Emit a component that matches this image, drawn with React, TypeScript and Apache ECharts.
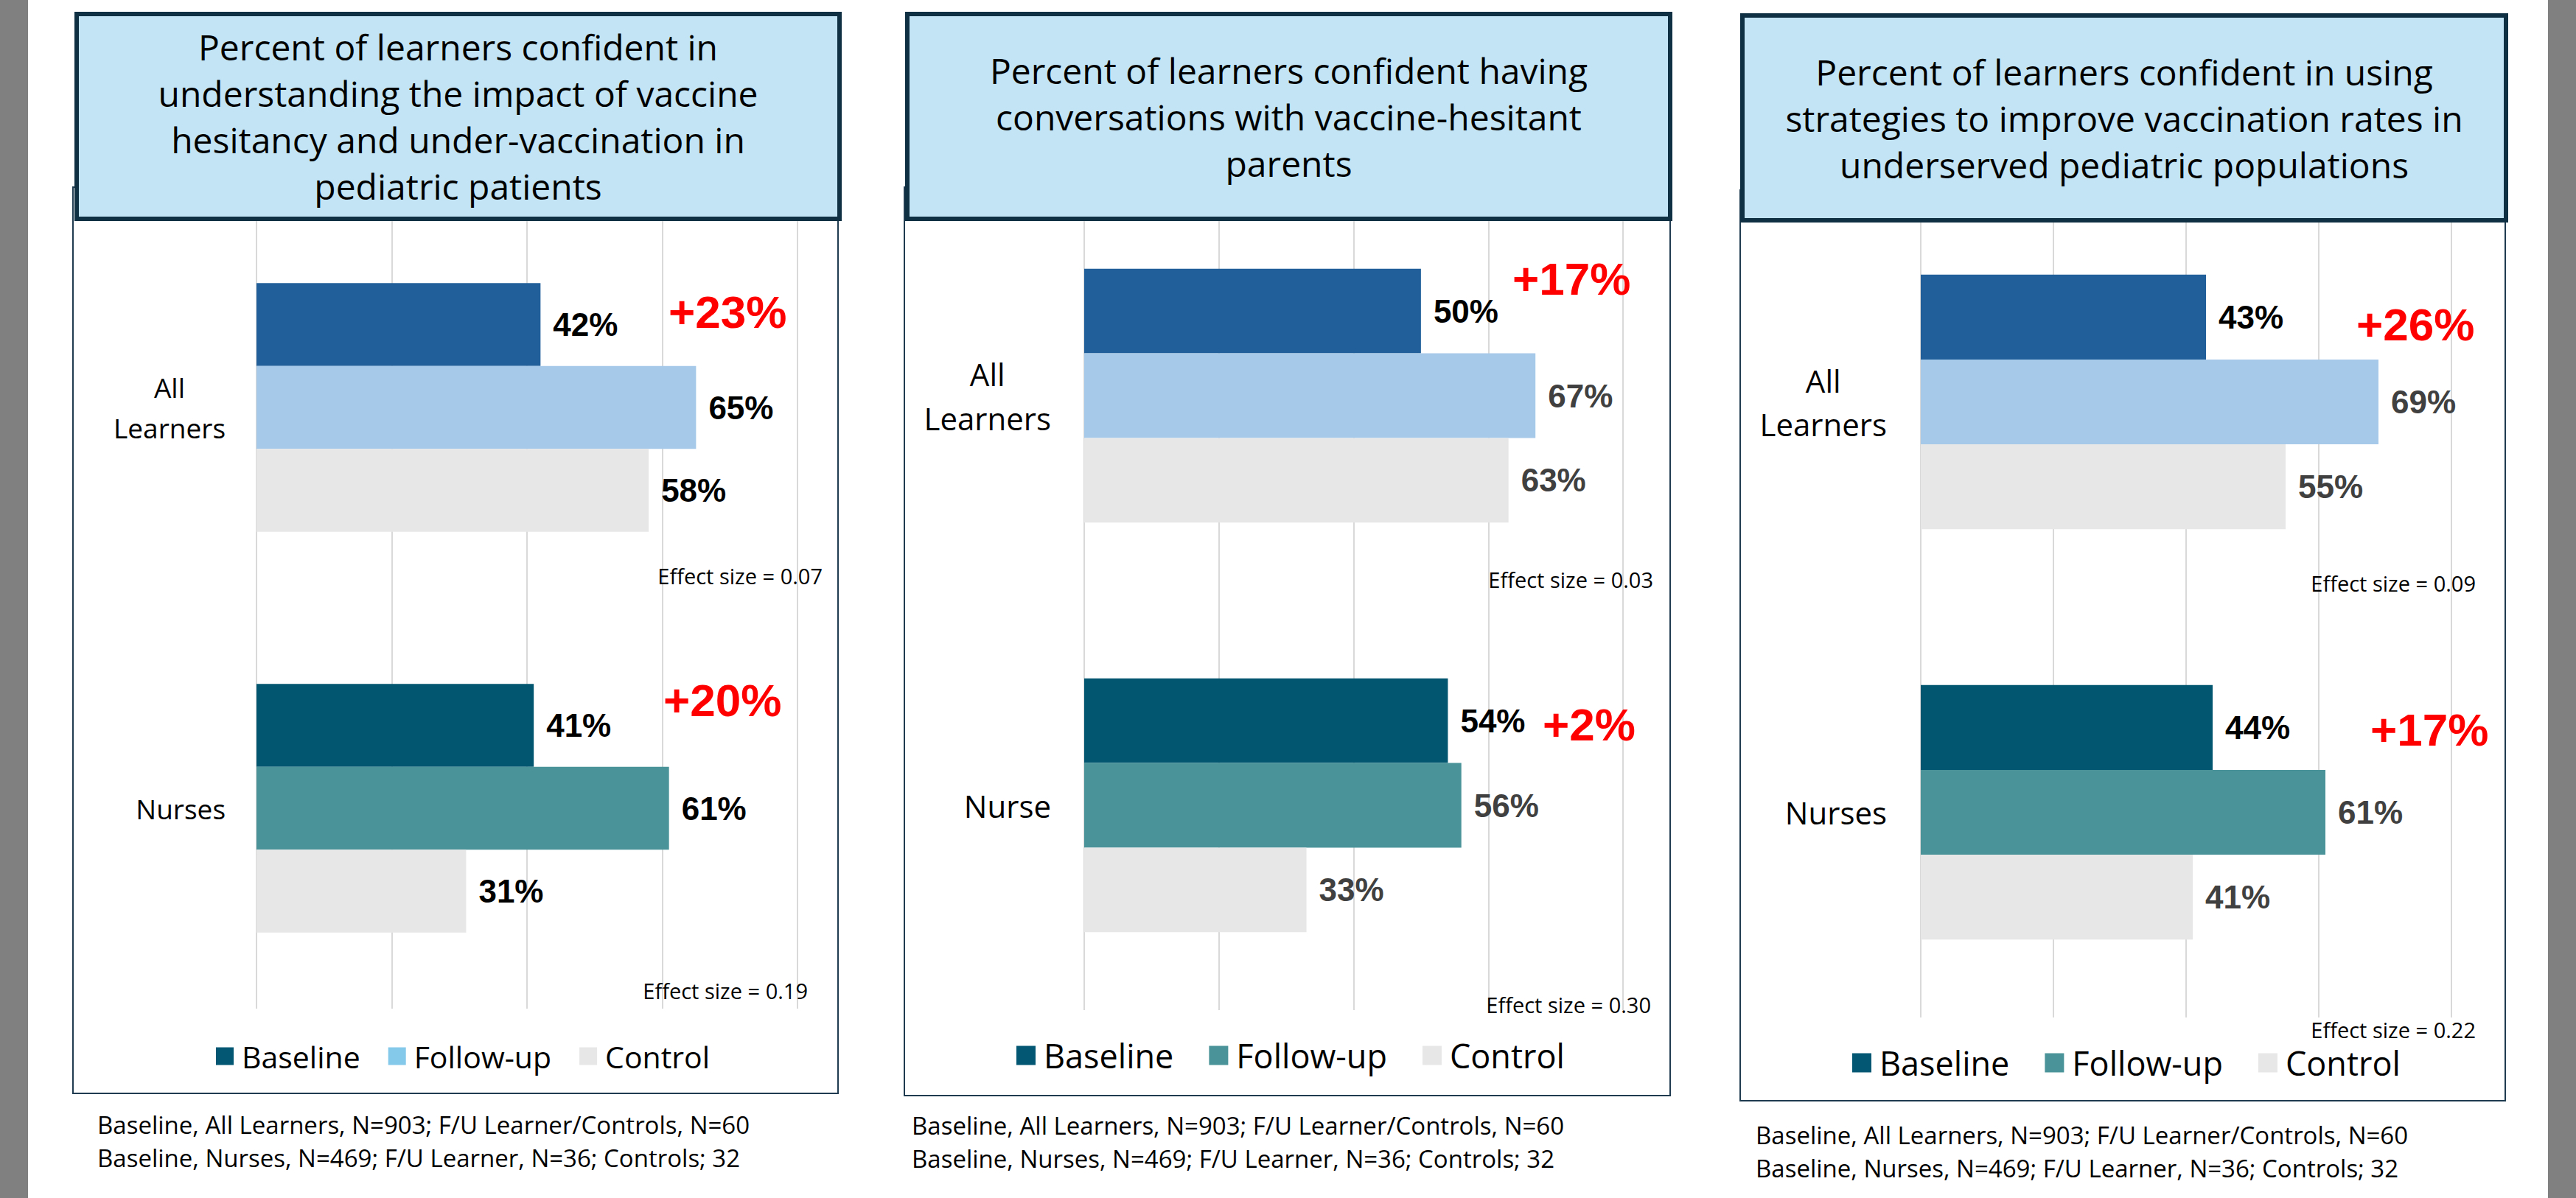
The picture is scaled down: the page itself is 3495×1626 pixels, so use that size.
import React, { useEffect, useRef } from "react";
import * as echarts from "echarts";

// ---------------- DATA ----------------
const seriesNames = ["Baseline", "Follow-up", "Control"];

const titles = [
  "Percent of learners confident in\nunderstanding the impact of vaccine\nhesitancy and under-vaccination in\npediatric patients",
  "Percent of learners confident having\nconversations with vaccine-hesitant\nparents",
  "Percent of learners confident in using\nstrategies to improve vaccination rates in\nunderserved pediatric populations",
];

const categories1 = ["All Learners", "Nurses"];
const categories2 = ["All Learners", "Nurse"];
const categories3 = ["All Learners", "Nurses"];

const baseline1 = [42, 41];
const followUp1 = [65, 61];
const control1 = [58, 31];

const baseline2 = [50, 54];
const followUp2 = [67, 56];
const control2 = [63, 33];

const baseline3 = [43, 44];
const followUp3 = [69, 61];
const control3 = [55, 41];

const deltas1 = ["+23%", "+20%"];
const deltas2 = ["+17%", "+2%"];
const deltas3 = ["+26%", "+17%"];

const effectSizes1 = ["0.07", "0.19"];
const effectSizes2 = ["0.03", "0.30"];
const effectSizes3 = ["0.09", "0.22"];

const footnoteLines = [
  "Baseline, All Learners, N=903; F/U Learner/Controls, N=60",
  "Baseline, Nurses, N=469; F/U Learner, N=36; Controls; 32",
];

const axisMin = 0;
const axisMax = 80;
const axisInterval = 20;

// ---------------- STYLE / LAYOUT ----------------
const W = 3495;
const H = 1626;
const TEXT_FONT = "'Open Sans', 'Noto Sans', sans-serif";
const LABEL_FONT = "'Liberation Sans', Arial, sans-serif";

// bar colours by category row: [baseline, follow-up, control]
const rowColors = [
  ["#215f9a", "#a6c9ea", "#e7e7e7"],
  ["#02566f", "#4a9499", "#e7e7e7"],
];

const panels = [
  {
    categories: categories1,
    values: [baseline1, followUp1, control1],
    deltas: deltas1,
    effects: effectSizes1,
    title: titles[0],
    grid: { left: 348, top: 281, width: 734, height: 1088 },
    catFont: 37,
    catLine: 55,
    catMargin: 42,
    labelColors: ["#000000", "#000000", "#000000"],
    legendColors: ["#035773", "#84c9ea", "#e7e7e7"],
    legend: { left: 288, top: 1408, size: 24, gap: 38, font: 41 },
    titleBox: { x: 101, y: 16, w: 1041, h: 284 },
    frame: { x: 99, y: 254, w: 1038, h: 1230 },
    deltaPos: [
      [907, 423],
      [900, 950],
    ],
    effectPos: [
      [1116, 781],
      [1096, 1344],
    ],
    footPos: [132, 1526],
  },
  {
    categories: categories2,
    values: [baseline2, followUp2, control2],
    deltas: deltas2,
    effects: effectSizes2,
    title: titles[1],
    grid: { left: 1471, top: 259, width: 731, height: 1112 },
    catFont: 42,
    catLine: 60,
    catMargin: 45,
    labelColors: ["#000000", "#404040", "#404040"],
    legendColors: ["#035773", "#4a9499", "#e7e7e7"],
    legend: { left: 1374, top: 1405, size: 26, gap: 48, font: 45 },
    titleBox: { x: 1228, y: 16, w: 1041, h: 284 },
    frame: { x: 1227, y: 254, w: 1039, h: 1233 },
    deltaPos: [
      [2052, 378],
      [2093, 983],
    ],
    effectPos: [
      [2243, 786],
      [2240, 1363],
    ],
    footPos: [1237, 1527],
  },
  {
    categories: categories3,
    values: [baseline3, followUp3, control3],
    deltas: deltas3,
    effects: effectSizes3,
    title: titles[2],
    grid: { left: 2606, top: 267, width: 720, height: 1114 },
    catFont: 42,
    catLine: 59,
    catMargin: 46,
    labelColors: ["#000000", "#404040", "#404040"],
    legendColors: ["#035773", "#4a9499", "#e7e7e7"],
    legend: { left: 2508, top: 1415, size: 26, gap: 48, font: 45 },
    titleBox: { x: 2361, y: 18, w: 1042, h: 284 },
    frame: { x: 2361, y: 258, w: 1038, h: 1236 },
    deltaPos: [
      [3197, 440],
      [3216, 990],
    ],
    effectPos: [
      [3359, 791],
      [3359, 1397],
    ],
    footPos: [2382, 1540],
  },
];

function buildOption() {
  const grid: any[] = [];
  const xAxis: any[] = [];
  const yAxis: any[] = [];
  const series: any[] = [];
  const legend: any[] = [];
  const elements: any[] = [];

  // grey side strips
  elements.push({
    type: "rect",
    z: 0,
    shape: { x: 0, y: 0, width: 38, height: H },
    style: { fill: "#808080" },
  });
  elements.push({
    type: "rect",
    z: 0,
    shape: { x: 3457, y: 0, width: W - 3457, height: H },
    style: { fill: "#808080" },
  });

  panels.forEach((p, i) => {
    grid.push({ ...p.grid, containLabel: false });
    xAxis.push({
      gridIndex: i,
      type: "value",
      min: axisMin,
      max: axisMax,
      interval: axisInterval,
      axisLabel: { show: false },
      axisLine: { show: false },
      axisTick: { show: false },
      splitLine: { show: true, lineStyle: { color: "#d9d9d9", width: 2 } },
    });
    yAxis.push({
      gridIndex: i,
      type: "category",
      data: p.categories,
      inverse: true,
      axisLine: { show: false },
      axisTick: { show: false },
      axisLabel: {
        margin: p.catMargin,
        formatter: (v: string) =>
          v
            .split(" ")
            .map((w) => `{c|${w}}`)
            .join("\n"),
        rich: {
          c: {
            fontFamily: TEXT_FONT,
            fontSize: p.catFont,
            lineHeight: p.catLine,
            color: "#000000",
            align: "center",
          },
        },
      },
    });

    seriesNames.forEach((name, s) => {
      series.push({
        type: "bar",
        name,
        xAxisIndex: i,
        yAxisIndex: i,
        barGap: "0%",
        barCategoryGap: "38%",
        data: p.values[s].map((v, k) => ({
          value: v,
          itemStyle: { color: rowColors[k][s] },
        })),
        label: {
          show: true,
          position: "right",
          distance: 17,
          formatter: "{c}%",
          fontFamily: LABEL_FONT,
          fontWeight: "bold",
          fontSize: 44,
          color: p.labelColors[s],
        },
      });
    });

    legend.push({
      left: p.legend.left,
      top: p.legend.top,
      orient: "horizontal",
      icon: "rect",
      itemWidth: p.legend.size,
      itemHeight: p.legend.size,
      itemGap: p.legend.gap,
      selectedMode: false,
      textStyle: {
        fontFamily: TEXT_FONT,
        fontSize: p.legend.font,
        color: "#000000",
        padding: [0, 0, 0, 6],
      },
      data: seriesNames.map((n, k) => ({
        name: n,
        itemStyle: { color: p.legendColors[k] },
      })),
    });

    // chart frame
    elements.push({
      type: "rect",
      z: 1,
      shape: { x: p.frame.x, y: p.frame.y, width: p.frame.w, height: p.frame.h },
      style: { fill: "none", stroke: "#1f3b4f", lineWidth: 2 },
    });
    // title box
    const tb = p.titleBox;
    elements.push({
      type: "rect",
      z: 100,
      shape: { x: tb.x + 3, y: tb.y + 3, width: tb.w - 6, height: tb.h - 6 },
      style: { fill: "#c2e4f4", stroke: "#0f3043", lineWidth: 6 },
    });
    elements.push({
      type: "text",
      z: 101,
      x: tb.x + tb.w / 2,
      y: tb.y + tb.h / 2,
      style: {
        text: p.title,
        fill: "#000000",
        fontFamily: TEXT_FONT,
        fontSize: 48,
        lineHeight: 63,
        align: "center",
        verticalAlign: "middle",
      },
    });
    // deltas
    p.deltas.forEach((d, k) => {
      elements.push({
        type: "text",
        z: 50,
        x: p.deltaPos[k][0],
        y: p.deltaPos[k][1],
        style: {
          text: d,
          fill: "#ff0000",
          fontFamily: LABEL_FONT,
          fontWeight: "bold",
          fontSize: 62,
          align: "left",
          verticalAlign: "middle",
        },
      });
    });
    // effect sizes
    p.effects.forEach((e, k) => {
      elements.push({
        type: "text",
        z: 50,
        x: p.effectPos[k][0],
        y: p.effectPos[k][1],
        style: {
          text: `Effect size = ${e}`,
          fill: "#000000",
          fontFamily: TEXT_FONT,
          fontSize: 29,
          align: "right",
          verticalAlign: "middle",
        },
      });
    });
    // footnotes
    elements.push({
      type: "text",
      z: 50,
      x: p.footPos[0],
      y: p.footPos[1] - 22,
      style: {
        text: footnoteLines.join("\n"),
        fill: "#000000",
        fontFamily: TEXT_FONT,
        fontSize: 33,
        lineHeight: 45,
        align: "left",
        verticalAlign: "top",
      },
    });
  });

  return {
    animation: false,
    backgroundColor: "#ffffff",
    grid,
    xAxis,
    yAxis,
    legend,
    series,
    graphic: { elements },
  };
}

export default function App() {
  const ref = useRef<HTMLDivElement>(null);
  useEffect(() => {
    if (!ref.current) return;
    const chart = echarts.init(ref.current, null, { renderer: "svg" });
    chart.setOption(buildOption() as any);
    return () => chart.dispose();
  }, []);
  return (
    <div
      ref={ref}
      style={{ position: "absolute", left: 0, top: 0, width: W, height: H, background: "#fff" }}
    />
  );
}
